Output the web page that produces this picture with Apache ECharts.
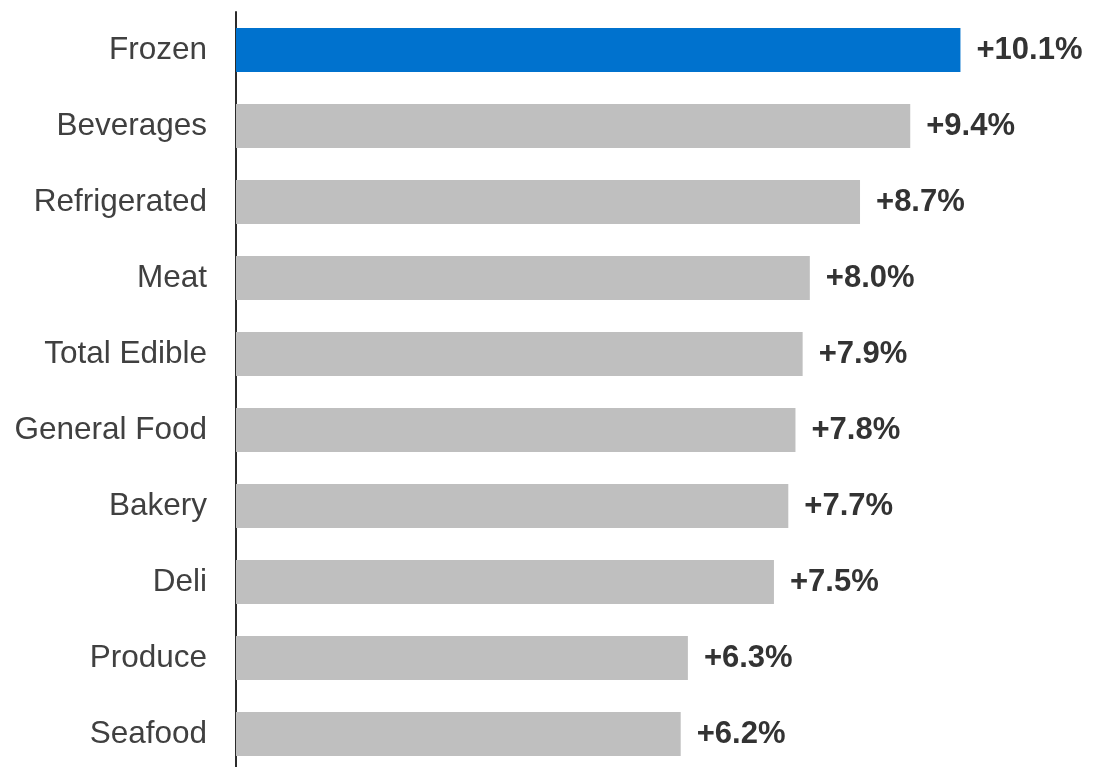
<!DOCTYPE html>
<html>
<head>
<meta charset="utf-8">
<script src="https://cdn.jsdelivr.net/npm/echarts@6/dist/echarts.min.js"></script>
<style>
  html, body { margin: 0; padding: 0; background: #ffffff; }
  #chart { width: 1096px; height: 767px; }
</style>
</head>
<body>
<div id="chart"></div>
<script>
// Growth by department, top to bottom
const categories = ['Frozen', 'Beverages', 'Refrigerated', 'Meat', 'Total Edible', 'General Food', 'Bakery', 'Deli', 'Produce', 'Seafood'];
const growth = [10.1, 9.4, 8.7, 8.0, 7.9, 7.8, 7.7, 7.5, 6.3, 6.2];
const highlighted = 'Frozen';

const chart = echarts.init(document.getElementById('chart'), null, { renderer: 'canvas' });

const barData = growth.map((v, i) => ({
  value: v,
  itemStyle: { color: categories[i] === highlighted ? '#0072CE' : '#BFBFBF' }
}));

chart.setOption({
  animation: false,
  grid: { left: 236, top: 12, width: 789, height: 760, containLabel: false, outerBoundsMode: 'none' },
  xAxis: {
    type: 'value',
    min: 0,
    max: 11,
    show: false
  },
  yAxis: {
    type: 'category',
    data: categories,
    inverse: true,
    axisLine: { show: true, lineStyle: { color: '#2b2b2b', width: 2 } },
    axisTick: { show: false },
    axisLabel: {
      margin: 29,
      color: '#404040',
      fontFamily: 'Liberation Sans, Arial, sans-serif',
      fontSize: 31.5,
      padding: [3, 0, 0, 0]
    },
    splitLine: { show: false }
  },
  series: [{
    type: 'bar',
    data: barData,
    barWidth: 44,
    label: {
      show: true,
      position: 'right',
      distance: 16,
      color: '#333333',
      fontWeight: 'bold',
      fontFamily: 'Liberation Sans, Arial, sans-serif',
      fontSize: 31,
      padding: [3, 0, 0, 0],
      formatter: p => '+' + p.value.toFixed(1) + '%'
    }
  }]
});
</script>
</body>
</html>
